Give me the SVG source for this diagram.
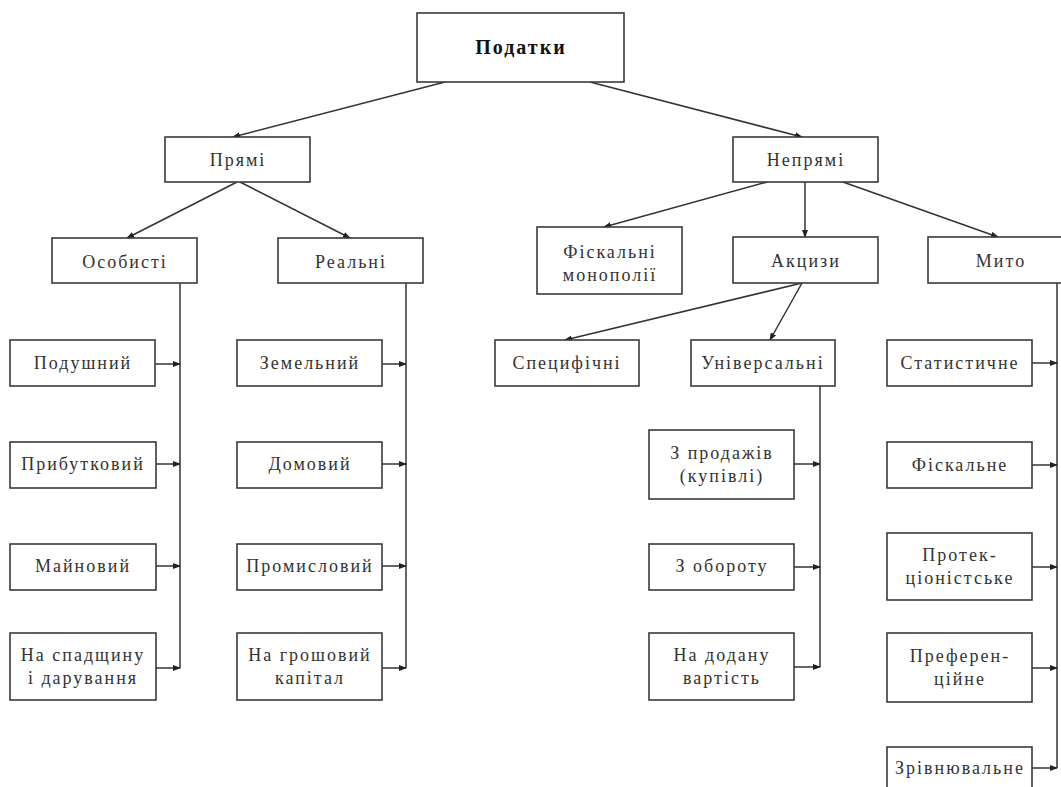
<svg xmlns="http://www.w3.org/2000/svg" width="1061" height="787" viewBox="0 0 1061 787">
<style>
.box{fill:#fff;stroke:#3a3a3a;stroke-width:1.6}
.t{font-family:"Liberation Serif","Times New Roman",serif;font-size:18px;fill:#333;text-anchor:middle;letter-spacing:2px}
.tb{font-family:"Liberation Serif","Times New Roman",serif;font-size:20px;font-weight:bold;fill:#111;text-anchor:middle;letter-spacing:2px}
.c{stroke:#333;stroke-width:1.5;fill:none;marker-end:url(#ah)}
.v{stroke:#333;stroke-width:1.5;fill:none}
</style>
<defs>
<marker id="ah" markerWidth="8" markerHeight="6" refX="7" refY="3" orient="auto" markerUnits="userSpaceOnUse">
<path d="M0,0 L8,3 L0,6 z" fill="#222"/>
</marker>
</defs>
<rect width="1061" height="787" fill="#fff"/>

<g id="connectors">
<line class="c" x1="445" y1="82" x2="233" y2="137"/>
<line class="c" x1="590" y1="82" x2="802" y2="137"/>
<line class="c" x1="237" y1="182" x2="127" y2="238"/>
<line class="c" x1="240" y1="182" x2="350" y2="238"/>
<line class="c" x1="767" y1="182" x2="604" y2="227"/>
<line class="c" x1="805" y1="182" x2="805" y2="237"/>
<line class="c" x1="843" y1="182" x2="998" y2="237"/>
<line class="c" x1="802" y1="283" x2="565" y2="340"/>
<line class="c" x1="802" y1="283" x2="770" y2="340"/>
<line class="v" x1="180" y1="283" x2="180" y2="668"/>
<line class="v" x1="406" y1="283" x2="406" y2="668"/>
<line class="v" x1="820" y1="386" x2="820" y2="667"/>
<line class="v" x1="1057" y1="283" x2="1057" y2="768"/>
<line class="c" x1="155" y1="364" x2="180" y2="364"/>
<line class="c" x1="156" y1="464" x2="180" y2="464"/>
<line class="c" x1="156" y1="566" x2="180" y2="566"/>
<line class="c" x1="156" y1="668" x2="180" y2="668"/>
<line class="c" x1="382" y1="364" x2="406" y2="364"/>
<line class="c" x1="382" y1="464" x2="406" y2="464"/>
<line class="c" x1="382" y1="566" x2="406" y2="566"/>
<line class="c" x1="382" y1="668" x2="406" y2="668"/>
<line class="c" x1="794" y1="464" x2="820" y2="464"/>
<line class="c" x1="794" y1="567" x2="820" y2="567"/>
<line class="c" x1="794" y1="667" x2="820" y2="667"/>
<line class="c" x1="1032" y1="363" x2="1057" y2="363"/>
<line class="c" x1="1032" y1="465" x2="1057" y2="465"/>
<line class="c" x1="1032" y1="567" x2="1057" y2="567"/>
<line class="c" x1="1032" y1="668" x2="1057" y2="668"/>
<line class="c" x1="1032" y1="768" x2="1057" y2="768"/>
</g>

<g id="podatky"><rect class="box" x="417" y="13" width="207" height="69"/><text class="tb" x="521" y="54">Податки</text></g>
<g id="pryami"><rect class="box" x="165" y="137" width="145" height="45"/><text class="t" x="238" y="166">Прямі</text></g>
<g id="nepryami"><rect class="box" x="733" y="137" width="145" height="45"/><text class="t" x="806" y="166">Непрямі</text></g>
<g id="osobysti"><rect class="box" x="52" y="238" width="145" height="45"/><text class="t" x="125" y="268">Особисті</text></g>
<g id="realni"><rect class="box" x="278" y="238" width="145" height="45"/><text class="t" x="351" y="268">Реальні</text></g>
<g id="fiskalni-monopolii"><rect class="box" x="537" y="227" width="145" height="67"/><text class="t" x="610" y="258">Фіскальні</text><text class="t" x="610" y="281">монополії</text></g>
<g id="aktsyzy"><rect class="box" x="733" y="237" width="145" height="46"/><text class="t" x="806" y="267">Акцизи</text></g>
<g id="myto"><rect class="box" x="928" y="237" width="145" height="46"/><text class="t" x="1001" y="267">Мито</text></g>

<g id="podushnyi"><rect class="box" x="10" y="340" width="145" height="46"/><text class="t" x="83" y="369">Подушний</text></g>
<g id="prybutkovyi"><rect class="box" x="10" y="442" width="146" height="46"/><text class="t" x="83" y="470">Прибутковий</text></g>
<g id="mainovyi"><rect class="box" x="10" y="544" width="146" height="46"/><text class="t" x="83" y="572">Майновий</text></g>
<g id="spadshchyna"><rect class="box" x="10" y="633" width="146" height="67"/><text class="t" x="83" y="661">На спадщину</text><text class="t" x="83" y="684">і дарування</text></g>

<g id="zemelnyi"><rect class="box" x="237" y="340" width="145" height="46"/><text class="t" x="310" y="369">Земельний</text></g>
<g id="domovyi"><rect class="box" x="237" y="442" width="145" height="46"/><text class="t" x="310" y="470">Домовий</text></g>
<g id="promyslovyi"><rect class="box" x="237" y="544" width="145" height="46"/><text class="t" x="310" y="572">Промисловий</text></g>
<g id="groshovyi"><rect class="box" x="237" y="633" width="145" height="67"/><text class="t" x="310" y="661">На грошовий</text><text class="t" x="310" y="684">капітал</text></g>

<g id="spetsyfichni"><rect class="box" x="495" y="340" width="144" height="46"/><text class="t" x="567" y="369">Специфічні</text></g>
<g id="universalni"><rect class="box" x="691" y="340" width="144" height="46"/><text class="t" x="763" y="369">Універсальні</text></g>
<g id="z-prodazhiv"><rect class="box" x="649" y="430" width="145" height="69"/><text class="t" x="722" y="459">З продажів</text><text class="t" x="722" y="482">(купівлі)</text></g>
<g id="z-oborotu"><rect class="box" x="649" y="544" width="145" height="46"/><text class="t" x="722" y="572">З обороту</text></g>
<g id="dodanu"><rect class="box" x="649" y="633" width="145" height="67"/><text class="t" x="722" y="661">На додану</text><text class="t" x="722" y="684">вартість</text></g>

<g id="statystychne"><rect class="box" x="887" y="340" width="145" height="46"/><text class="t" x="960" y="369">Статистичне</text></g>
<g id="fiskalne"><rect class="box" x="887" y="442" width="145" height="46"/><text class="t" x="960" y="471">Фіскальне</text></g>
<g id="protektsionistske"><rect class="box" x="887" y="533" width="145" height="67"/><text class="t" x="960" y="561">Протек-</text><text class="t" x="960" y="584">ціоністське</text></g>
<g id="preferentsiine"><rect class="box" x="887" y="633" width="145" height="69"/><text class="t" x="960" y="662">Преферен-</text><text class="t" x="960" y="685">ційне</text></g>
<g id="zrivniuvalne"><rect class="box" x="887" y="747" width="145" height="60"/><text class="t" x="960" y="774">Зрівнювальне</text></g>
</svg>
